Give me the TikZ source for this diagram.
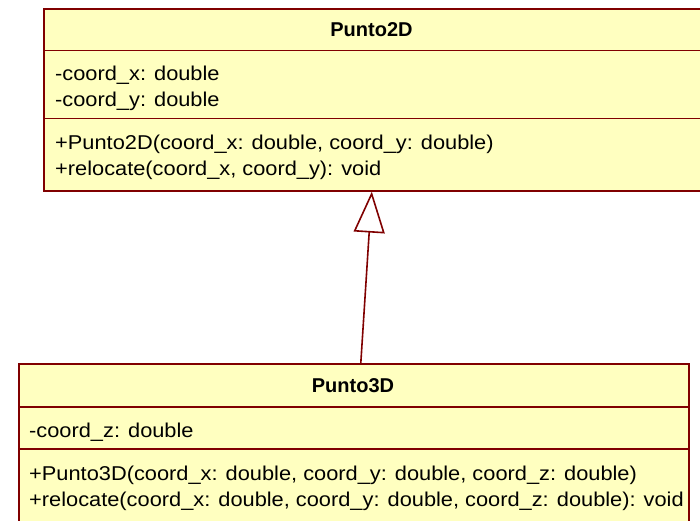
\documentclass[tikz,border=0pt]{standalone}
\usepackage{fontspec}
\setmainfont{Liberation Sans}
\newfontfamily\umlreg[FakeStretch=1.09]{Liberation Sans}
\usetikzlibrary{arrows.meta}
\definecolor{umlfill}{RGB}{255,255,192}
\definecolor{umlline}{RGB}{128,0,0}
\begin{document}
\begin{tikzpicture}[x=1pt,y=-1pt,
  classbox/.style={draw=umlline, fill=umlfill, line width=1.6pt, rectangle, inner sep=0pt, anchor=north west},
  member/.style={anchor=base west, inner sep=0pt, font=\umlreg\fontsize{20}{24}\selectfont},
  classname/.style={anchor=base, inner sep=0pt, font=\bfseries\fontsize{20}{24}\selectfont},
  divider/.style={draw=umlline, line width=1.6pt},
  inherit/.style={draw=umlline, line width=1.6pt, -{Triangle[open, length=41pt, width=31pt, fill=white]}}]
\useasboundingbox (0,0) rectangle (700,520);
\fill[white] (0,0) rectangle (700,520);
\clip (0,0) rectangle (700,520);

% Punto2D
\node[classbox, minimum width=660pt, minimum height=182pt] (p2d) at (43,8) {};
\node[classname] (p2dname) at (371.5,36) {Punto2D};
\draw[divider] (43,50.5) -- (703,50.5);
\draw[divider] (43,118.5) -- (703,118.5);
\node[member] (p2da1) at (55,80) {-coord\_x: double};
\node[member] (p2da2) at (55,106) {-coord\_y: double};
\node[member] (p2dm1) at (55,149) {+Punto2D(coord\_x: double, coord\_y: double)};
\node[member] (p2dm2) at (55,175) {+relocate(coord\_x, coord\_y): void};

% Punto3D
\node[classbox, minimum width=670pt, minimum height=180pt] (p3d) at (18,363) {};
\node[classname] (p3dname) at (353,392) {Punto3D};
\draw[divider] (18,407) -- (690,407);
\draw[divider] (18,449) -- (690,449);
\node[member] (p3da1) at (29,437) {-coord\_z: double};
\node[member] (p3dm1) at (29,480) {+Punto3D(coord\_x: double, coord\_y: double, coord\_z: double)};
\node[member] (p3dm2) at (29,506) {+relocate(coord\_x: double, coord\_y: double, coord\_z: double): void};

% generalization
\draw[inherit] ([xshift=7pt]p3d.north) -- ([xshift=-2pt]p2d.south);
\end{tikzpicture}
\end{document}
